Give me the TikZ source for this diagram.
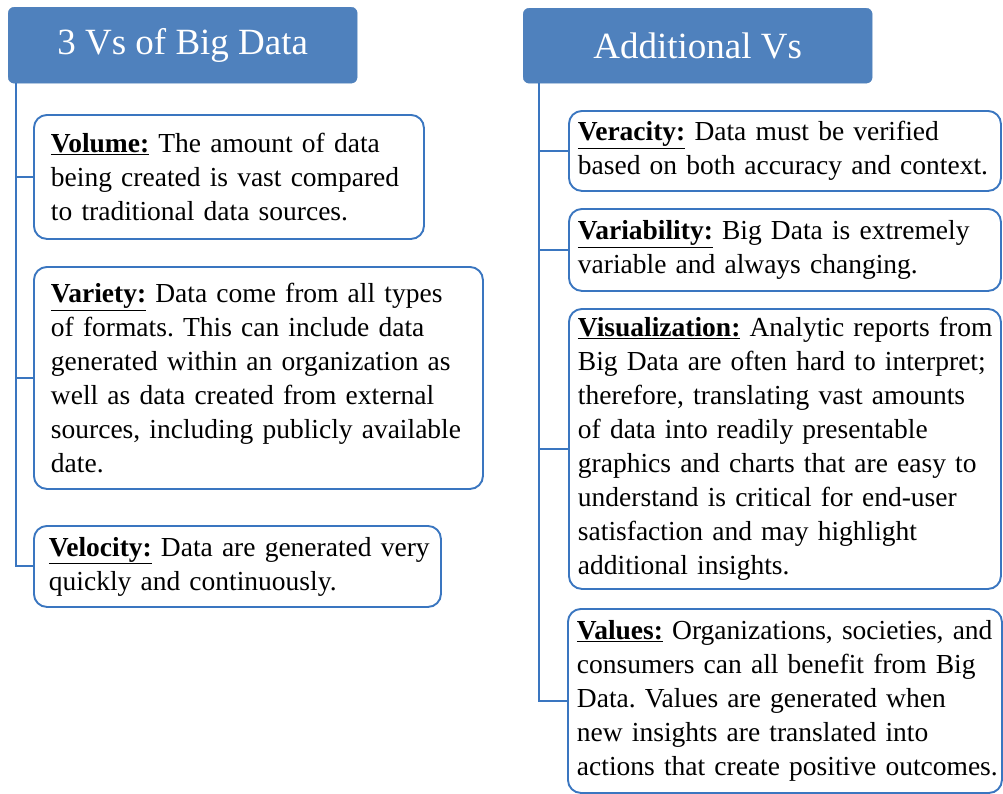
\documentclass[tikz,border=0pt]{standalone}
\usepackage{fontspec}
\setmainfont{Liberation Serif}
\usetikzlibrary{calc}
\definecolor{hdrblue}{RGB}{79,129,189}
\definecolor{lineblue}{RGB}{58,118,192}
\tikzset{
  hdr/.style={fill=hdrblue, draw=hdrblue, rounded corners=6pt, anchor=north west,
    text=white, font=\fontsize{37}{44}\selectfont, inner sep=0pt},
  item/.style={draw=lineblue, line width=1.9pt, fill=white, rounded corners=13pt,
    anchor=north west, align=left, inner ysep=0pt, font=\fontsize{27.5}{34}\selectfont},
  conn/.style={draw=lineblue, line width=2pt},
}
\newcommand{\term}[1]{\underline{\textbf{#1}}}
\newcommand{\ml}[1]{\mbox{#1}}
\frenchspacing
\begin{document}
\begin{tikzpicture}[x=1pt,y=-1pt]
\useasboundingbox (0,0) rectangle (1003,793);
\fill[white] (0,0) rectangle (1003,793);

% headers
\node[hdr, minimum width=349pt, minimum height=76pt] (hL) at (8,7) {3 Vs of Big Data};
\node[hdr, minimum width=349pt, minimum height=75pt] (hR) at (523,8) {Additional Vs};

\coordinate (cL) at ($(hL.south west)+(8,0)$);
\coordinate (cR) at ($(hR.south west)+(16,0)$);

% left boxes
\node[item, inner xsep=17pt, text width=356pt, minimum width=390pt, minimum height=124pt] (vol) at (33,114)
  {\ml{\term{Volume:} The amount of data}\\\ml{being created is vast compared}\\\ml{to traditional data sources.}};
\node[item, inner xsep=17pt, text width=415pt, minimum width=449pt, minimum height=222pt] (var) at (33,266)
  {\ml{\term{Variety:} Data come from all types}\\\ml{of formats. This can include data}\\\ml{generated within an organization as}\\\ml{well as data created from external}\\\ml{sources, including publicly available}\\\ml{date.}};
\node[item, inner xsep=15pt, text width=377pt, minimum width=407pt, minimum height=81pt] (vel) at (33,525)
  {\ml{\term{Velocity:} Data are generated very}\\\ml{quickly and continuously.}};

% right boxes
\node[item, inner xsep=9pt, text width=414pt, minimum width=432pt, minimum height=80pt] (ver) at (568,110)
  {\ml{\term{Veracity:} Data must be verified}\\\ml{based on both accuracy and context.}};
\node[item, inner xsep=9pt, text width=414pt, minimum width=432pt, minimum height=82pt] (vab) at (568,208)
  {\ml{\term{Variability:} Big Data is extremely}\\\ml{variable and always changing.}};
\node[item, inner xsep=9pt, text width=414pt, minimum width=432pt, minimum height=280pt] (vis) at (568,308)
  {\ml{\term{Visualization:} Analytic reports from}\\\ml{Big Data are often hard to interpret;}\\\ml{therefore, translating vast amounts}\\\ml{of data into readily presentable}\\\ml{graphics and charts that are easy to}\\\ml{understand is critical for end-user}\\\ml{satisfaction and may highlight}\\\ml{additional insights.}};
\node[item, inner xsep=9pt, text width=416pt, minimum width=434pt, minimum height=184pt] (val) at (567,608)
  {\ml{\term{Values:} Organizations, societies, and}\\\ml{consumers can all benefit from Big}\\\ml{Data. Values are generated when}\\\ml{new insights are translated into}\\\ml{actions that create positive outcomes.}};

% connectors
\draw[conn] (cL) |- (vol.west);
\draw[conn] (cL) |- (var.west);
\draw[conn] (cL) |- (vel.west);
\draw[conn] (cR) |- (ver.west);
\draw[conn] (cR) |- (vab.west);
\draw[conn] (cR) |- (vis.west);
\draw[conn] (cR) |- (val.west);
\end{tikzpicture}
\end{document}
